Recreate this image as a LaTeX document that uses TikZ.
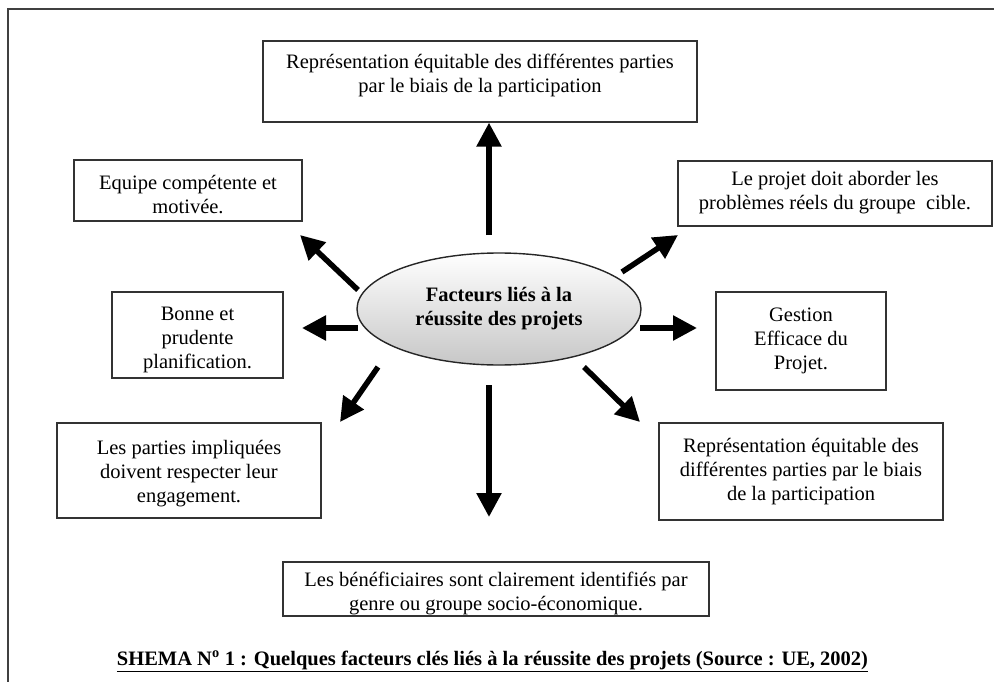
\documentclass[tikz,border=0pt]{standalone}
\usepackage{fontspec}
\setmainfont{Liberation Serif}
\usetikzlibrary{arrows.meta}
\usetikzlibrary{shapes}
\tikzset{
        textnode/.style={align=center,inner sep=0pt,font=\fontsize{20.5}{24}\selectfont},
        % Factor boxes (text is put in as a label so it can sit off-centre)
        node_box/.style={rectangle, draw=black!80, line width=1.3pt, fill=white, inner sep=0pt},
        box_text/.style={textnode, label position=center, draw=none, fill=none},
        % Central ellipse
        node_hub/.style={textnode, ellipse, draw=black!85, line width=1.4pt, top color=white, bottom color=black!22, font=\fontsize{20.5}{24}\selectfont\bfseries},
        % Thick arrows
        arrow_big/.style={-{Triangle[length=24pt,width=24pt]}, line width=5.5pt, black}
}

\begin{document}
\begin{tikzpicture}[x=1pt, y=-1pt]
    \useasboundingbox (0,0) rectangle (994,682);
    \draw[line width=2.2pt, black!75] (8,9) rectangle (1010,700);

    \node[node_hub, minimum width=284pt, minimum height=112pt] (hub) at (499,309) {Facteurs liés à la\\réussite des projets};

    \node[node_box, minimum width=434pt, minimum height=81pt,
          label={[box_text, name=top_txt, yshift=6pt]center:{Représentation équitable des différentes parties\\par le biais de la participation}}] (top) at (480,81.5) {};
    \node[node_box, minimum width=228pt, minimum height=61pt,
          label={[box_text, name=equipe_txt, yshift=-4pt]center:{Equipe compétente et\\motivée.}}] (equipe) at (188,190.5) {};
    \node[node_box, minimum width=171pt, minimum height=86pt,
          label={[box_text, name=planif_txt, yshift=-5pt]center:{Bonne et\\prudente\\planification.}}] (planif) at (197.5,335) {};
    \node[node_box, minimum width=264pt, minimum height=95pt,
          label={[box_text, name=parties_txt, yshift=-3pt]center:{Les parties impliquées\\doivent respecter leur\\engagement.}}] (parties) at (189,470.5) {};
    \node[node_box, minimum width=314pt, minimum height=65pt,
          label={[box_text, name=projet_txt, yshift=1pt]center:{Le projet doit aborder les\\problèmes réels du groupe~ cible.}}] (projet) at (835,193.5) {};
    \node[node_box, minimum width=170pt, minimum height=98pt,
          label={[box_text, name=gestion_txt]center:{Gestion\\Efficace du\\Projet.}}] (gestion) at (801,341) {};
    \node[node_box, minimum width=284pt, minimum height=97pt,
          label={[box_text, name=repres_txt]center:{Représentation équitable des\\différentes parties par le biais\\de la participation}}] (repres) at (801,471.5) {};
    \node[node_box, minimum width=426pt, minimum height=54pt,
          label={[box_text, name=benef_txt, yshift=-4pt]center:{Les bénéficiaires sont clairement identifiés par\\genre ou groupe socio-économique.}}] (benef) at (496,589) {};

    \coordinate (up_from) at (489,235);
    \coordinate (nw_from) at (358,290);
    \coordinate (nw_to) at (300,235);
    \coordinate (w_from) at (358,328);
    \coordinate (w_to) at (302,328);
    \coordinate (sw_from) at (378,367);
    \coordinate (sw_to) at (340,422);
    \coordinate (s_from) at (489,385);
    \coordinate (s_to) at (489,517);
    \coordinate (se_from) at (584,367);
    \coordinate (se_to) at (640,422);
    \coordinate (e_from) at (640,328);
    \coordinate (e_to) at (697,328);
    \coordinate (ne_from) at (622,272);
    \coordinate (ne_to) at (678,235);

    \draw[arrow_big] (up_from) -- (up_from |- top.south);
    \draw[arrow_big] (nw_from) -- (nw_to);
    \draw[arrow_big] (w_from) -- (w_to);
    \draw[arrow_big] (sw_from) -- (sw_to);
    \draw[arrow_big] (s_from) -- (s_to);
    \draw[arrow_big] (se_from) -- (se_to);
    \draw[arrow_big] (e_from) -- (e_to);
    \draw[arrow_big] (ne_from) -- (ne_to);

    \node[textnode, font=\fontsize{20.5}{24}\selectfont\bfseries] (caption) at (492.5,661) {\underline{SHEMA N\textsuperscript{o} 1 : Quelques facteurs clés liés à la réussite des projets (Source : UE, 2002)}};
\end{tikzpicture}
\end{document}
